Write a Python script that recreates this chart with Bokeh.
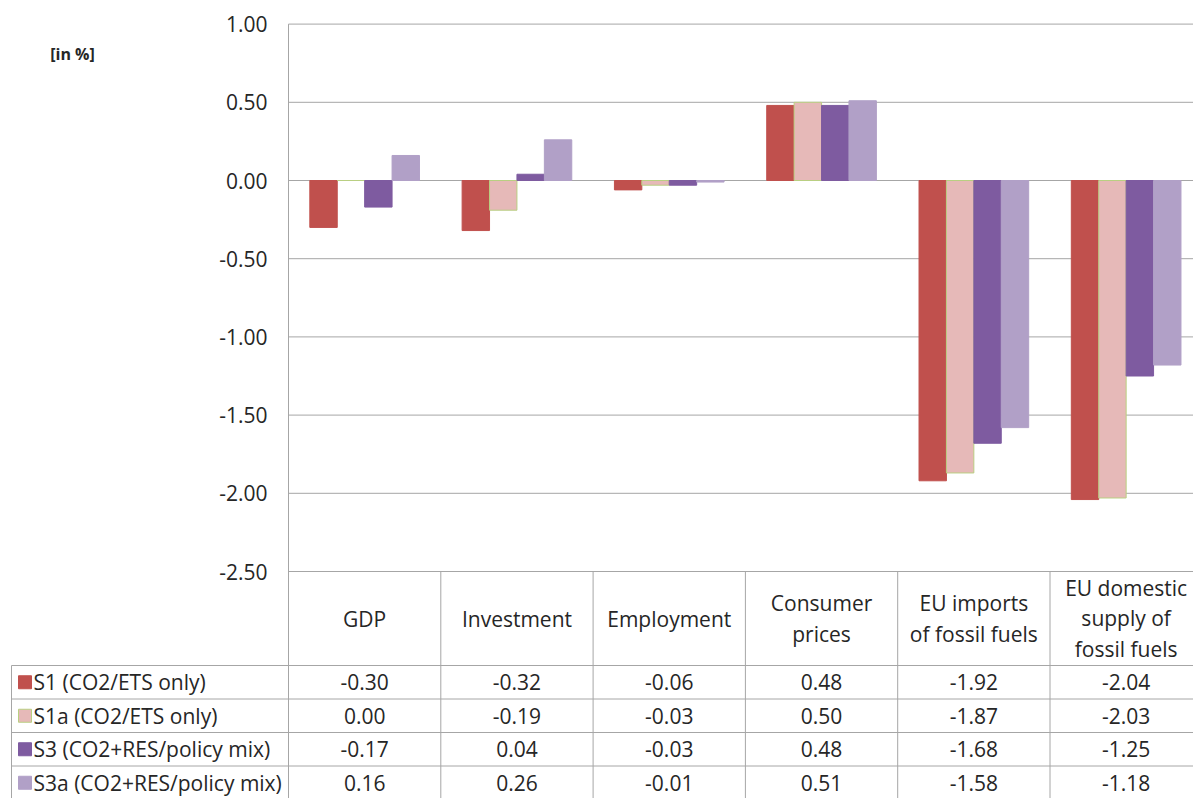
from bokeh.plotting import figure
from bokeh.models import Range1d
from bokeh.core.properties import value
from bokeh.embed import file_html
from bokeh.resources import INLINE

# ---------------- data ----------------
categories = ["GDP", "Investment", "Employment", "Consumer\nprices",
              "EU imports\nof fossil fuels", "EU domestic\nsupply of\nfossil fuels"]
series_names = ["S1 (CO2/ETS only)", "S1a (CO2/ETS only)",
                "S3 (CO2+RES/policy mix)", "S3a (CO2+RES/policy mix)"]
s1 = [-0.30, -0.32, -0.06, 0.48, -1.92, -2.04]
s1a = [0.00, -0.19, -0.03, 0.50, -1.87, -2.03]
s3 = [-0.17, 0.04, -0.03, 0.48, -1.68, -1.25]
s3a = [0.16, 0.26, -0.01, 0.51, -1.58, -1.18]
y_ticks = [1.0, 0.5, 0.0, -0.5, -1.0, -1.5, -2.0, -2.5]
unit_label = "[in %]"

series = [s1, s1a, s3, s3a]
fills = ["#C0504D", "#E6B9B8", "#7E5BA0", "#B1A0C7"]
outlines = ["#C0504D", "#B9CF82", "#7E5BA0", "#B1A0C7"]
offsets = [-0.27, -0.09, 0.09, 0.27]
BAR_W = 0.18

FONT = "Open Sans"
FS = "21px"
TEXT_COLOR = "#262626"
LINE_COLOR = "#A6A6A6"

# ---------------- layout (pixels) ----------------
W, H = 1193, 798
PX_CAT = 152.3      # pixels per category column
AXIS_X = 288        # value-axis line position
PX_UNIT = 156.4     # pixels per 1.00 on value axis
Y_TOP = 23.6        # pixel row of 1.00
HEADER_BOTTOM = 665 # pixel row where the table body starts
ROW = 33.5          # table row height in pixels


def xpx(px):
    return (px - AXIS_X) / PX_CAT


def ypx(py):
    return 1.0 - (py - Y_TOP) / PX_UNIT


x_start, x_end = xpx(0), xpx(W)
y_end, y_start = ypx(0), ypx(H)
r_end = 4 + HEADER_BOTTOM / ROW
r_start = r_end - H / ROW

p = figure(width=W, height=H, output_backend="svg", toolbar_location=None,
           x_range=Range1d(x_start, x_end), y_range=Range1d(y_start, y_end),
           min_border_left=0, min_border_right=0, min_border_top=0,
           min_border_bottom=0, x_axis_location=None, y_axis_location=None)
p.extra_y_ranges = {"rows": Range1d(r_start, r_end)}
p.outline_line_color = None
p.grid.visible = False
p.background_fill_color = "white"
p.border_fill_color = "white"

n = len(categories)
nr = len(series)
bottom = y_start - 1

# value gridlines (including -2.50 = top of table header)
p.segment(x0=[0] * len(y_ticks), y0=y_ticks, x1=[x_end + 1] * len(y_ticks), y1=y_ticks,
          line_color=LINE_COLOR, line_width=1)
# value axis line (continues down as table column line)
p.segment(x0=[0], y0=[max(y_ticks)], x1=[0], y1=[bottom], line_color=LINE_COLOR, line_width=1)
# column separators through header and table
p.segment(x0=list(range(1, n)), y0=[min(y_ticks)] * (n - 1),
          x1=list(range(1, n)), y1=[bottom] * (n - 1),
          line_color=LINE_COLOR, line_width=1)
# y tick labels
p.text(x=[xpx(267)] * len(y_ticks), y=y_ticks, text=["%.2f" % v for v in y_ticks],
       text_align="right", text_baseline="middle",
       text_font=value(FONT), text_font_size=FS, text_color=TEXT_COLOR)

# bars
for vals, fc, lc, off in zip(series, fills, outlines, offsets):
    p.vbar(x=[i + 0.5 + off for i in range(n)], top=vals, bottom=0, width=BAR_W,
           fill_color=fc, line_color=lc, line_width=1)

# category labels in header row
p.text(x=[i + 0.5 for i in range(n)], y=[ypx(618)] * n, text=categories,
       text_align="center", text_baseline="middle",
       text_font=value(FONT), text_font_size=FS, text_color=TEXT_COLOR,
       text_line_height=1.08)

# unit label
p.text(x=[xpx(72)], y=[ypx(53)], text=[unit_label], text_align="center",
       text_baseline="middle", text_font=value(FONT), text_font_size="16px",
       text_font_style="bold", text_color=TEXT_COLOR)

# ---------------- data table body ----------------
x_tl = xpx(11)
p.segment(x0=[x_tl] * (nr + 1), y0=list(range(nr + 1)),
          x1=[x_end + 1] * (nr + 1), y1=list(range(nr + 1)),
          line_color=LINE_COLOR, line_width=1, y_range_name="rows")
p.segment(x0=[x_tl], y0=[-1], x1=[x_tl], y1=[nr],
          line_color=LINE_COLOR, line_width=1, y_range_name="rows")

row_y = [nr - 0.5 - r for r in range(nr)]
p.scatter(x=[xpx(24.5)] * nr, y=row_y, marker="square", size=13,
          fill_color=fills, line_color=outlines, line_width=1, y_range_name="rows")
p.text(x=[xpx(33)] * nr, y=row_y, text=series_names,
       text_align="left", text_baseline="middle",
       text_font=value(FONT), text_font_size=FS, text_color=TEXT_COLOR,
       y_range_name="rows")

for r, vals in enumerate(series):
    p.text(x=[i + 0.5 for i in range(n)], y=[row_y[r]] * n,
           text=["%.2f" % v for v in vals],
           text_align="center", text_baseline="middle",
           text_font=value(FONT), text_font_size=FS, text_color=TEXT_COLOR,
           y_range_name="rows")

open("out.html", "w").write(file_html(p, INLINE))
